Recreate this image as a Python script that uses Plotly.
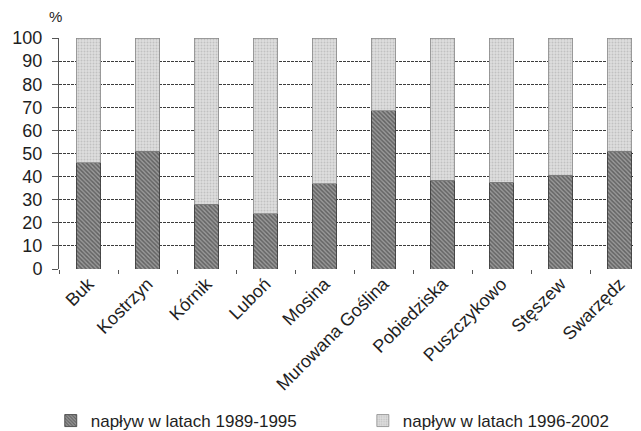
import plotly.graph_objects as go

categories = ["Buk", "Kostrzyn", "Kórnik", "Luboń", "Mosina", "Murowana Goślina",
              "Pobiedziska", "Puszczykowo", "Stęszew", "Swarzędz"]
s1_name = "napływ w latach 1989-1995"
s2_name = "napływ w latach 1996-2002"
s1 = [46, 51, 28, 24, 37, 68.5, 38.5, 37.5, 40.5, 51]
s2 = [100 - v for v in s1]
y_ticks = [0, 10, 20, 30, 40, 50, 60, 70, 80, 90, 100]

FONT = "Liberation Sans, Arial, sans-serif"

fig = go.Figure()
fig.add_trace(go.Bar(
    x=categories, y=s1, name=s1_name, legend="legend",
    marker=dict(color="#7a7a7a", line=dict(color="#3a3a3a", width=0.8),
                pattern=dict(shape="\\", fgcolor="#2e2e2e", bgcolor="#999999", size=3, solidity=0.5)),
))
fig.add_trace(go.Bar(
    x=categories, y=s2, name=s2_name, legend="legend2",
    marker=dict(color="#d2d2d2", line=dict(color="#8a8a8a", width=0.8),
                pattern=dict(shape=".", fgcolor="#a4a4a4", bgcolor="#dedede", size=3, solidity=0.35)),
))

leg_common = dict(orientation="h", xanchor="left", y=-0.736, yanchor="bottom",
                  font=dict(size=17), bgcolor="rgba(0,0,0,0)")
fig.update_layout(
    barmode="stack",
    bargap=0.585,
    width=641, height=431,
    margin=dict(l=51, r=0, t=30, b=170, autoexpand=False),
    paper_bgcolor="white", plot_bgcolor="white",
    font=dict(family=FONT, color="#1e1e1e"),
    showlegend=True,
    legend=dict(x=-0.014, **leg_common),
    legend2=dict(x=0.515, **leg_common),
    annotations=[dict(text="%", x=0, xref="paper", xanchor="center", xshift=-4,
                      y=1, yref="paper", yanchor="bottom", yshift=11,
                      showarrow=False, font=dict(size=15))],
)
fig.update_yaxes(range=[0, 100], tickvals=y_ticks, tickfont=dict(size=18),
                 showgrid=True, gridcolor="#3c3c3c", griddash="3px,1px", gridwidth=1,
                 showline=True, linecolor="#555", linewidth=1,
                 ticks="outside", ticklen=6, tickcolor="#555", zeroline=False,
                 ticklabelstandoff=6)
fig.update_xaxes(tickangle=-45, tickfont=dict(size=18), showline=False,
                 ticks="outside", tickson="boundaries", ticklen=4, tickcolor="#555",
                 showgrid=False)

fig.write_html("out.html")
